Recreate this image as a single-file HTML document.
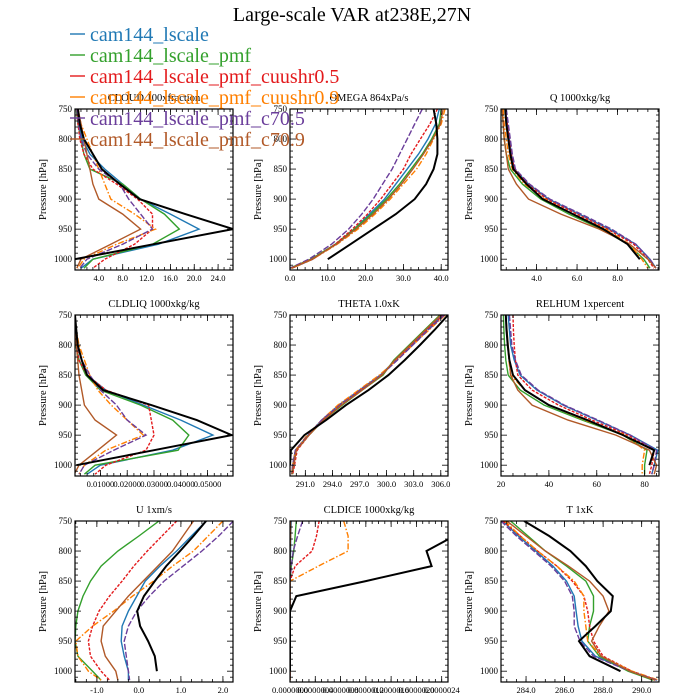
<!DOCTYPE html>
<html><head><meta charset="utf-8">
<style>body{margin:0;background:#fff}svg{display:block;font-family:"Liberation Serif",serif}</style>
</head><body>
<svg id="c" width="700" height="700" viewBox="0 0 700 700"></svg>
<script>
const levels=[750,775,800,825,850,875,900,925,950,975,1000,1015];
const seriesNames=["cam144_lscale","cam144_lscale_pmf","cam144_lscale_pmf_cuushr0.5","cam144_lscale_pmf_cuushr0.9","cam144_lscale_pmf_c70.5","cam144_lscale_pmf_c70.9"];
const cloudVals=[[0.3,0.6,1.2,2.5,5,8,11,16,20.8,14,3,1],[0.2,0.5,1,1.5,2.5,8,11,15,17.5,13,3,1.5],[0.3,0.5,0.8,1.5,3,7,10.5,13,13,10,5,3],[0.5,1,2,3,4,5,6,10,13.5,7,1.5,0.5],[0.3,0.6,1,2,4,7.5,9,11,13,8,2,0.8],[0.5,1,1.5,2,2.5,3,4,8,11,6,1,0.3]];
const cloudObs=[0.5,0.8,1.5,3,4.5,7.5,10.8,18.5,26.5,13.2,0,null];
const omegaVals=[[39.5,38.5,36.5,34,31,28,25,21,17,12,6,0.5],[40,39.5,37.5,35,32,29,25.5,21.5,17,12,5.5,0],[39,37,34.5,32,30,27,24,20.5,16.5,12,6,0.5],[41,40,38,36,33.5,30,26.5,22.5,18,12.5,6,0.5],[35,33,31,29,27,24.5,22,19,15.5,11,5,0],[40.5,39.8,37.8,35.3,32.5,29.5,26,22,17.5,12.3,5.8,0.3]];
const omegaObs=[38,38.7,39,39,38,36,33,28,22,16,10,null];
const qVals=[[2.45,2.55,2.65,2.75,2.9,3.6,4.6,6.1,7.6,8.9,9.6,9.9],[2.3,2.35,2.4,2.5,2.7,3.3,4.2,5.6,7.2,8.5,9.3,9.6],[2.45,2.55,2.65,2.75,2.9,3.55,4.5,6.0,7.5,8.8,9.5,9.8],[2.35,2.4,2.5,2.6,2.8,3.4,4.4,5.8,7.4,8.6,9.2,9.5],[2.5,2.6,2.7,2.8,2.95,3.65,4.65,6.2,7.7,8.9,9.6,9.9],[2.3,2.35,2.4,2.5,2.6,3.0,3.6,5.2,7.1,8.6,9.5,9.9]];
const qObs=[2.45,2.5,2.6,2.7,2.85,3.5,4.3,5.8,7.3,8.5,9.1,null];
const liqVals=[[0.0003,0.0006,0.001,0.002,0.005,0.012,0.026,0.040,0.052,0.037,0.010,0.005],[0.0002,0.0004,0.0008,0.002,0.0045,0.010,0.025,0.037,0.043,0.039,0.008,0.004],[0.0003,0.0005,0.001,0.002,0.005,0.012,0.028,0.029,0.030,0.027,0.012,0.008],[0.0005,0.001,0.002,0.004,0.006,0.009,0.014,0.020,0.026,0.012,0.004,0.002],[0.0003,0.0006,0.0012,0.003,0.006,0.010,0.016,0.020,0.027,0.015,0.004,0.002],[0.0003,0.0006,0.001,0.0015,0.002,0.003,0.004,0.008,0.016,0.009,0.002,0.0002]];
const liqObs=[0.0005,0.001,0.0015,0.003,0.005,0.011,0.029,0.046,0.059,0.030,0.001,null];
const thetaVals=[[306.2,304.4,302.7,301,299.3,297,294.7,292.8,291.3,289.9,289.6,289.5],[305.9,304.2,302.5,300.8,299.6,297.3,295.1,293.0,291.4,290,289.7,289.6],[306.3,304.5,302.8,301.1,299.4,297.1,294.8,292.9,291.4,290.1,289.8,289.6],[306.5,304.7,302.9,301.1,299.2,296.9,294.6,292.8,291.2,289.9,289.6,289.5],[306.4,304.6,302.9,301.2,299.4,297.1,294.8,292.8,291.3,289.9,289.6,289.5],[306.0,304.3,302.6,300.9,299.5,297.3,295.0,293.0,291.4,290,289.7,289.5]];
const thetaObs=[306.8,305.3,303.7,302,300.2,298,295.5,293.3,290.9,289.4,289.3,null];
const rhVals=[[23,23.5,24,25.5,28,35,46,60,74,85.5,84,83],[21,21.2,21.5,22,23,28,38,54,71,81,80,80],[25,25.2,25.5,26,27,33,44,58,73,84,83,82],[22,22.3,22.8,23.3,24,30,40,55,72,80,79,79],[23.5,24,24.5,26,28.5,35.5,46.5,60.5,74,85,84,83],[22,22.5,23,23.5,24,27,33,48,68,82,85,84]];
const rhObs=[22,22.3,22.8,23.5,25,30,40,56,71,84,82,null];
const uVals=[[1.6,1.25,0.9,0.5,0.15,-0.05,-0.25,-0.4,-0.42,-0.35,-0.25,-0.25],[0.48,0,-0.5,-0.9,-1.15,-1.33,-1.45,-1.5,-1.52,-1.45,-1.1,-0.9],[0.9,0.55,0.2,-0.12,-0.4,-0.7,-0.95,-1.1,-1.2,-1.15,-0.9,-0.7],[2.0,1.65,1.3,0.8,0.35,-0.15,-0.6,-1.1,-1.5,-1.45,-1.2,-0.9],[2.25,1.9,1.5,1.05,0.6,0.25,-0.05,-0.25,-0.35,-0.3,-0.25,-0.22],[1.3,1.05,0.8,0.45,0.1,-0.25,-0.55,-0.85,-0.9,-0.8,-0.55,-0.5]];
const uObs=[1.6,1.3,0.98,0.65,0.38,0.12,-0.04,0.03,0.22,0.38,0.43,null];
const iceVals=[[0.02,0.01,0.01,0,0,0,0,0,0,0,0,0],[0.1,0.08,0.06,0.02,0,0,0,0,0,0,0,0],[0.46,0.42,0.35,0.08,0,0,0,0,0,0,0,0],[0.85,0.92,0.92,0.45,0,0,0,0,0,0,0,0],[0.2,0.12,0.05,0.02,0,0,0,0,0,0,0,0],[0.01,0.01,0,0,0,0,0,0,0,0,0,0]];
const iceObs=[null,2.6,2.16,2.24,1.2,0.1,0,0,0,0,0,null];
const tVals=[[282.8,283.6,284.5,285.4,286.1,286.5,286.6,286.7,286.9,287.6,289.4,290.8],[283.2,284.1,285.0,286.1,287.1,287.5,287.5,287.3,287.2,287.8,289.3,290.6],[282.8,283.7,284.6,285.6,286.4,287.0,287.2,287.3,287.5,288.0,289.5,290.8],[282.9,283.7,284.6,285.6,286.5,287.0,287.0,287.1,287.2,287.9,289.5,290.9],[282.7,283.5,284.4,285.3,286.0,286.4,286.5,286.5,286.8,287.5,289.4,290.8],[283.0,284.0,285.0,286.2,287.3,288.0,288.3,287.8,287.4,287.9,289.4,290.7]];
const tObs=[283.9,285.2,286.3,287.1,287.7,288.5,288.4,287.6,286.75,287.3,288.9,null];

const colors=["#1f78b4","#33a02c","#e31a1c","#ff7f00","#6a3d9a","#b15928"];
const dashes=["","","3,1.5","6,2,1.5,2","6,2",""];
const cols=[75,290,501], rows=[109,315,521], W=158, H=161;
const panels=[
 {n:"cloud",t:"CLOUD  100xfraction",c:0,r:0,x0:0,x1:26.5,ticks:[4,8,12,16,20,24],lab:v=>v.toFixed(1),minor:1,vals:cloudVals,obs:cloudObs},
 {n:"omega",t:"OMEGA  864xPa/s",c:1,r:0,x0:0,x1:41.8,ticks:[0,10,20,30,40],lab:v=>v.toFixed(1),minor:2,vals:omegaVals,obs:omegaObs},
 {n:"q",t:"Q  1000xkg/kg",c:2,r:0,x0:2.24,x1:10.05,ticks:[4,6,8],lab:v=>v.toFixed(1),minor:0.5,vals:qVals,obs:qObs},
 {n:"cldliq",t:"CLDLIQ  1000xkg/kg",c:0,r:1,x0:0.0005,x1:0.0595,ticks:[0.01,0.02,0.03,0.04,0.05],lab:v=>v.toFixed(5),minor:0.0025,vals:liqVals,obs:liqObs},
 {n:"theta",t:"THETA  1.0xK",c:1,r:1,x0:289.3,x1:306.8,ticks:[291,294,297,300,303,306],lab:v=>v.toFixed(1),minor:1,vals:thetaVals,obs:thetaObs},
 {n:"relhum",t:"RELHUM  1xpercent",c:2,r:1,x0:20,x1:86,ticks:[20,40,60,80],lab:v=>String(v),minor:5,vals:rhVals,obs:rhObs},
 {n:"u",t:"U  1xm/s",c:0,r:2,x0:-1.52,x1:2.24,ticks:[-1,0,1,2],lab:v=>v.toFixed(1),minor:0.25,vals:uVals,obs:uObs},
 {n:"cldice",t:"CLDICE  1000xkg/kg",c:1,r:2,x0:0,x1:2.5,ticks:[0,0.4,0.8,1.2,1.6,2.0,2.4],lab:v=>(v*1e-6).toFixed(7),minor:0.1,vals:iceVals,obs:iceObs},
 {n:"t",t:"T  1xK",c:2,r:2,x0:282.7,x1:290.9,ticks:[284,286,288,290],lab:v=>v.toFixed(1),minor:0.5,vals:tVals,obs:tObs}
];
const NS="http://www.w3.org/2000/svg", svg=document.getElementById("c");
function mk(tag,at,par,txt){const e=document.createElementNS(NS,tag);for(const k in at)e.setAttribute(k,at[k]);if(txt!==undefined)e.textContent=txt;(par||svg).appendChild(e);return e;}
const P0=750,P1=1018;
panels.forEach(pn=>{
 const L=cols[pn.c],T=rows[pn.r];
 const xs=v=>L+(v-pn.x0)/(pn.x1-pn.x0)*W;
 const ys=p=>T+(p-P0)/(P1-P0)*H;
 const g=mk("g",{});
 
 
 const tt=mk("text",{x:L+W/2,y:T-8,"font-size":"10.5","text-anchor":"middle"},g,pn.t);
 
 
 const cp=mk("clipPath",{id:"cp"+pn.n},g);mk("rect",{x:L,y:T,width:W,height:H},cp);
 const lg=mk("g",{"clip-path":"url(#cp"+pn.n+")"},g);
 pn.vals.forEach((arr,i)=>{
  const pts=[];arr.forEach((v,j)=>{if(v!==null)pts.push(xs(v).toFixed(1)+","+ys(levels[j]).toFixed(1));});
  const pl=mk("polyline",{points:pts.join(" "),fill:"none",stroke:colors[i],"stroke-width":"1.4","stroke-dasharray":dashes[i]||"none"},lg);
  
  
 });
 const op=[];pn.obs.forEach((v,j)=>{if(v!==null)op.push(xs(v).toFixed(1)+","+ys(levels[j]).toFixed(1));});
 const ol=mk("polyline",{points:op.join(" "),fill:"none",stroke:"#000","stroke-width":"2"},lg);
 
 
 // frame
 const fr=mk("rect",{x:L,y:T,width:W,height:H,fill:"none",stroke:"#000","stroke-width":"1.2"},g);
 
 
 // y ticks
 for(let p=750;p<=1015;p+=10){const maj=(p%50===0),len=maj?6:3,y=ys(p);
  mk("line",{x1:L,x2:L+len,y1:y,y2:y,stroke:"#000","stroke-width":"0.8"},g);
  mk("line",{x1:L+W,x2:L+W-len,y1:y,y2:y,stroke:"#000","stroke-width":"0.8"},g);
  if(maj){const tl=mk("text",{x:L-3,y:y+3,"font-size":"9","text-anchor":"end"},g,String(p));
   
   }
 }
 // x ticks
 const st=pn.minor,start=Math.ceil(pn.x0/st-1e-9)*st;
 for(let v=start;v<=pn.x1+1e-12;v+=st){const x=xs(v);
  mk("line",{x1:x,x2:x,y1:T+H,y2:T+H-3,stroke:"#000","stroke-width":"0.8"},g);
  mk("line",{x1:x,x2:x,y1:T,y2:T+3,stroke:"#000","stroke-width":"0.8"},g);}
 pn.ticks.forEach(v=>{const x=xs(v);
  mk("line",{x1:x,x2:x,y1:T+H,y2:T+H-6,stroke:"#000","stroke-width":"0.8"},g);
  mk("line",{x1:x,x2:x,y1:T,y2:T+6,stroke:"#000","stroke-width":"0.8"},g);
  const xl=mk("text",{x:x,y:T+H+11,"font-size":"8.5","text-anchor":"middle"},g,pn.lab(v));
  
  
 });
 const ya=mk("text",{x:0,y:0,"font-size":"10.5","text-anchor":"middle",transform:`translate(${L-29},${T+H/2}) rotate(-90)`},g,"Pressure [hPa]");
 
 
});
// title
const ti=mk("text",{x:352,y:21,"font-size":"20","text-anchor":"middle"},svg,"Large-scale VAR at238E,27N");


// legend
seriesNames.forEach((nm,i)=>{
 const y=41+i*21;
 const lg=mk("g",{});
 
 
 mk("line",{x1:70,x2:85,y1:y-7,y2:y-7,stroke:colors[i],"stroke-width":"1.4"},lg);
 mk("text",{x:90,y:y,"font-size":"20",fill:colors[i]},lg,nm);
});
</script>
</body></html>
